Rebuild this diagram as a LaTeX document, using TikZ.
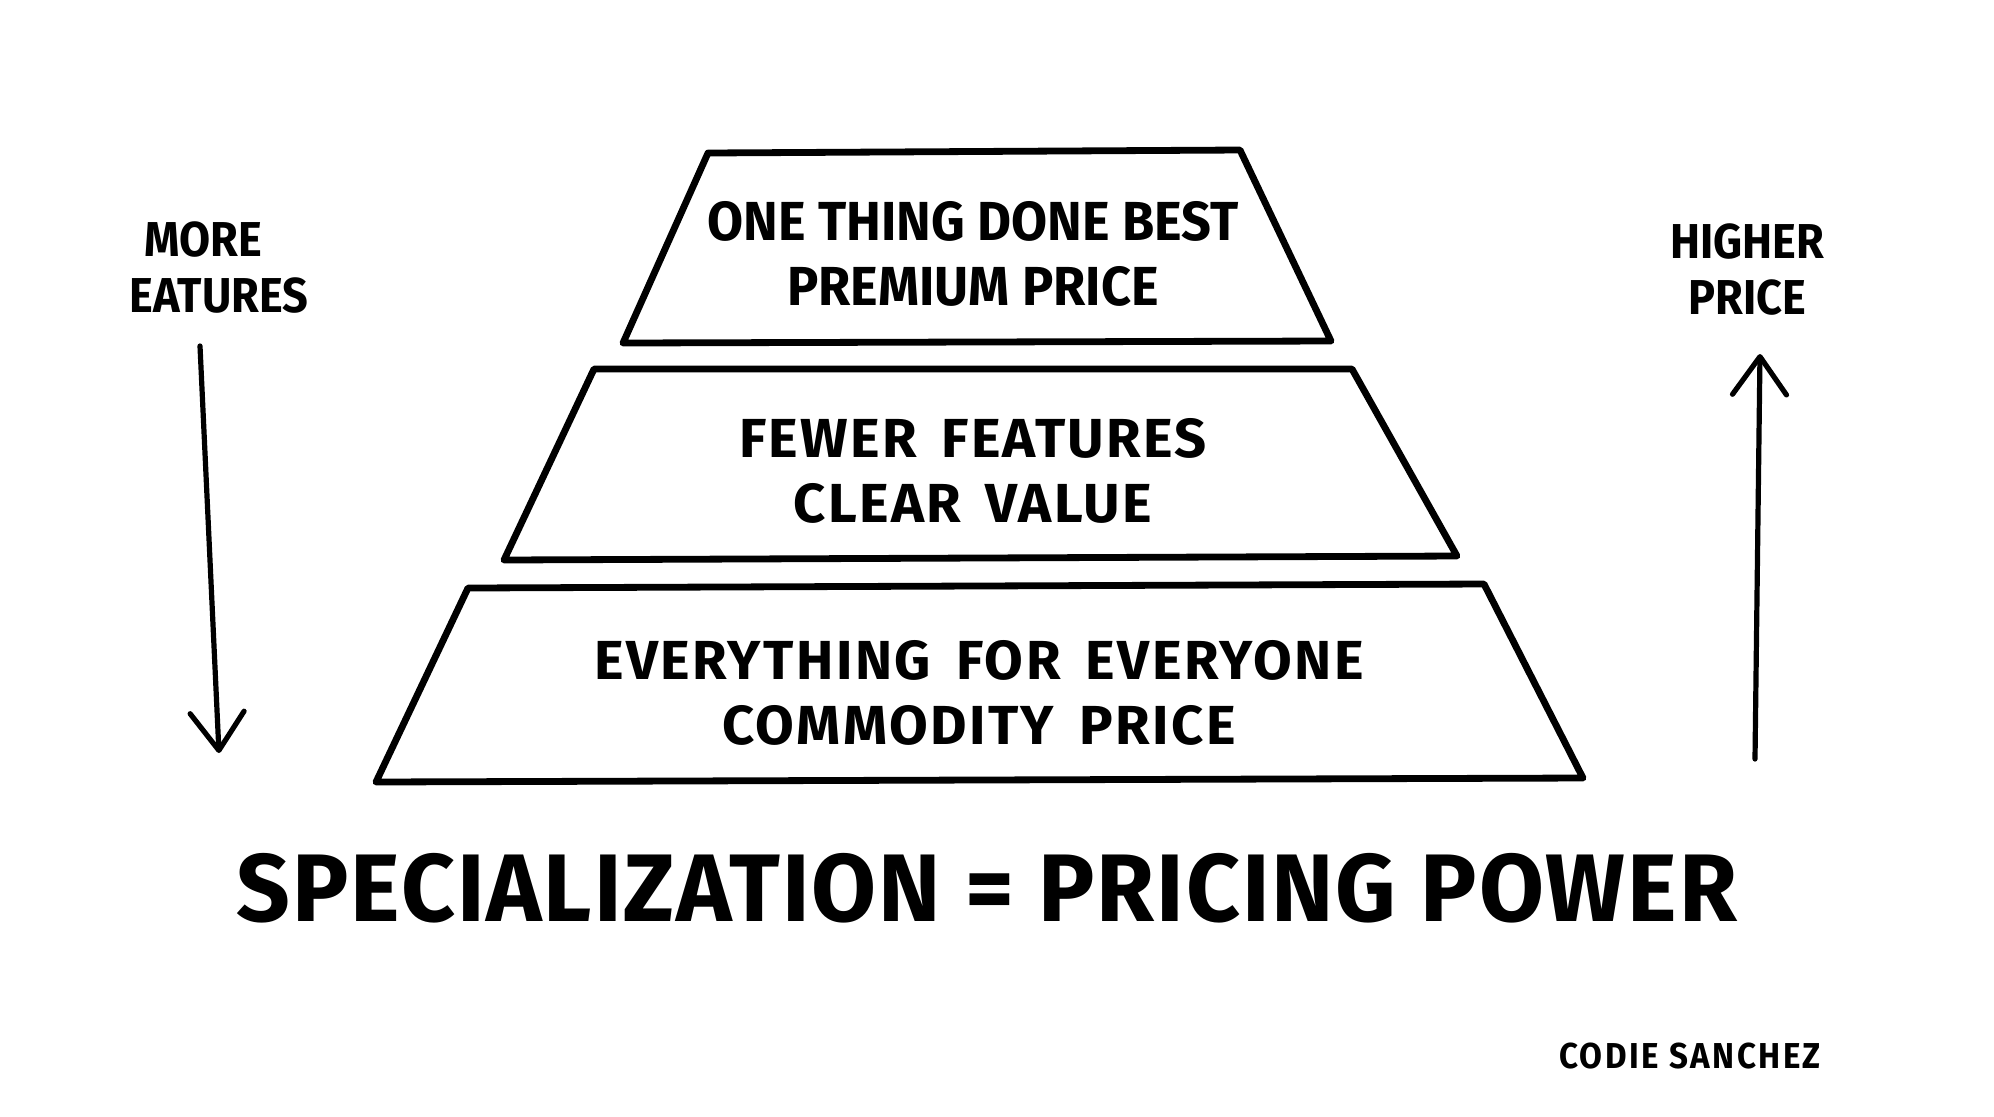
\documentclass[tikz,border=0pt]{standalone}
\usepackage{fontspec}
\setmainfont{Fira Sans}
\newfontfamily\handfont{Fira Sans}[FakeStretch=0.92]
\newfontfamily\topfont{Fira Sans}[FakeStretch=0.95]
\newfontfamily\midfont{Fira Sans}[FakeStretch=1.02, LetterSpace=4, WordSpace=1.6]
\newfontfamily\lowfont{Fira Sans}[FakeStretch=1.02, LetterSpace=4.5, WordSpace=1.6]
\newfontfamily\titlefont{Fira Sans}[FakeStretch=0.98, LetterSpace=2]
\newfontfamily\signfont{Fira Sans}[FakeStretch=0.92, LetterSpace=7]
\usetikzlibrary{arrows.meta}
\tikzset{layer/.style={draw, line width=3.4pt, line join=round},
	layertext/.style={align=center, font=\bfseries\fontsize{27.5}{32.5}\selectfont},
	sidetext/.style={font=\handfont\bfseries\fontsize{24.5}{28}\selectfont},
	updown/.style={line width=2.6pt, line cap=round,
		-{Straight Barb[length=19pt, width=27pt, line width=2.6pt, round]}}}

\begin{document}
\begin{tikzpicture}[x=0.5pt, y=-0.5pt]
		\useasboundingbox (0,0) rectangle (1994,1116);
		% pyramid, top to bottom
		\draw[layer] (708,153) -- (1240,150) -- (1331,341) -- (623,343) -- cycle;
		\draw[layer] (594,369) -- (1352,369) -- (1457,556) -- (504,560) -- cycle;
		\draw[layer] (468,588) -- (1484,584) -- (1583,778) -- (376,782) -- cycle;
		\node[layertext] (best) at (973,254) {\topfont ONE THING DONE BEST\\\topfont PREMIUM PRICE};
		\node[layertext] (value) at (973,471) {\midfont FEWER FEATURES\\\midfont CLEAR VALUE};
		\node[layertext] (commodity) at (979,693) {\lowfont EVERYTHING FOR EVERYONE\\\lowfont COMMODITY PRICE};
		% side labels and arrows
		\node[sidetext, align=left] (more) at (219,268) {\hspace*{7.5pt}MORE\\EATURES};
		\node[sidetext, align=center] (higher) at (1747,270) {HIGHER\\PRICE};
		\coordinate (moretop) at (200,346);
		\coordinate (morebot) at (219,753);
		\coordinate (higherbot) at (1755,759);
		\coordinate (highertop) at (1760,354);
		\draw[updown] (moretop) -- (morebot);
		\draw[updown] (higherbot) -- (highertop);
		% title and signature
		\node[font=\titlefont\bfseries\fontsize{48}{56}\selectfont] (title) at (987,888) {SPECIALIZATION = PRICING POWER};
		\node[font=\signfont\bfseries\fontsize{18}{20}\selectfont] (author) at (1690,1056) {CODIE SANCHEZ};
\end{tikzpicture}
\end{document}
